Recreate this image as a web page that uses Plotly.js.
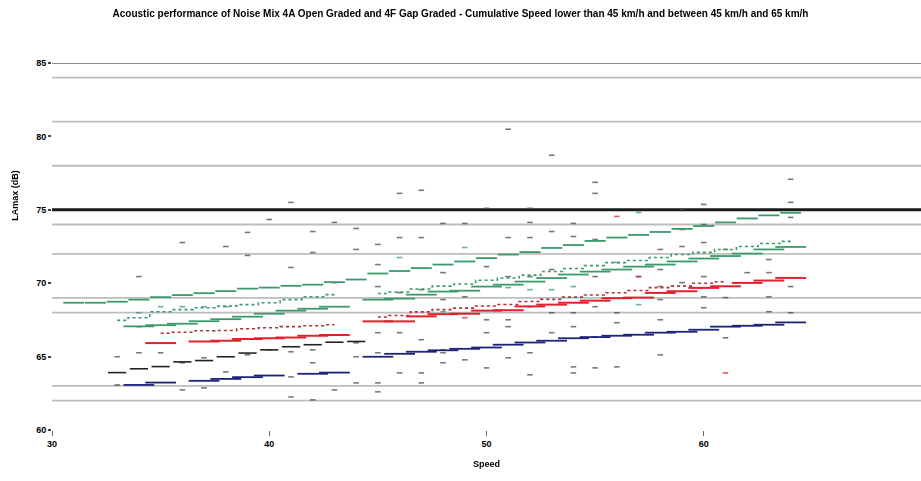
<!DOCTYPE html>
<html>
<head>
<meta charset="utf-8">
<script src="https://cdn.plot.ly/plotly-3.0.1.min.js"></script>
<style>html,body{margin:0;padding:0;background:#fff;}#chart{width:921px;height:481px;}</style>
</head>
<body>
<div id="chart"></div>
<script>
// ---------- DATA ----------
var chartTitle = "Acoustic performance of Noise Mix 4A Open Graded and 4F Gap Graded - Cumulative Speed lower than 45 km/h and between 45 km/h and 65 km/h";
var xTitle = "Speed";
var yTitle = "LAmax (dB)";
var xTicks = [30, 40, 50, 60, 70];
var yTicks = [60, 65, 70, 75, 80, 85];
var refLines = [85, 84, 81, 78, 74, 72, 69, 68, 63, 62];
var limitLine = 75;

// Group 1 (low speed)
var g1GreenDashSpeed = [31,32,33,34,35,36,37,38,39,40,41,42,43,44];
var g1GreenDash      = [68.67,68.67,68.74,68.88,69.05,69.19,69.32,69.46,69.63,69.70,69.82,69.90,70.07,70.25];
var g1GreenDotSpeed  = [33,34,35,36,37,38,39,40,41,42,43];
var g1GreenDot       = [67.47,67.65,68.06,68.20,68.33,68.44,68.54,68.67,68.88,69.08,69.22];
var g1GreenSpeed     = [34,35,36,37,38,39,40,41,42,43];
var g1Green          = [67.06,67.14,67.24,67.41,67.55,67.72,67.92,68.13,68.26,68.40];
var g1RedDotSpeed    = [35,36,37,38,39,40,41,42,43];
var g1RedDot         = [66.59,66.66,66.76,66.78,66.90,66.97,67.04,67.10,67.17];
var g1RedSpeed       = [35,37,38,39,40,41,42,43];
var g1Red            = [65.92,66.03,66.08,66.20,66.25,66.30,66.42,66.47];
var g1BlackDashSpeed = [33,34,35,36,37,38,39,40,41,42,43,44];
var g1BlackDash      = [63.91,64.17,64.32,64.64,64.73,64.99,65.24,65.46,65.67,65.81,65.98,66.03];
var g1NavySpeed      = [34,35,37,38,39,40,42,43];
var g1Navy           = [63.07,63.23,63.35,63.48,63.60,63.71,63.83,63.91];

// Group 2 (higher speed)
var g2Speed          = [45,46,47,48,49,50,51,52,53,54,55,56,57,58,59,60,61,62,63,64];
var g2GreenDash      = [70.66,70.83,71.03,71.27,71.48,71.71,71.95,72.12,72.40,72.60,72.88,73.11,73.29,73.49,73.70,73.90,74.14,74.41,74.62,74.80];
var g2GreenDot       = [69.30,69.40,69.60,69.80,69.95,70.20,70.35,70.55,70.80,71.00,71.20,71.40,71.55,71.75,71.95,72.10,72.30,72.50,72.70,72.85];
var g2Green          = [68.88,68.95,69.22,69.43,69.49,69.77,69.90,70.11,70.35,70.59,70.79,70.93,71.13,71.27,71.48,71.68,71.85,72.02,72.30,72.47];
var g2RedDotSpeed    = [45,46,47,48,49,50,51,52,53,54,55,56,57,58,59,60,61];
var g2RedDot         = [67.70,67.80,68.05,68.20,68.30,68.45,68.55,68.75,68.90,69.05,69.20,69.35,69.50,69.70,69.80,70.00,70.10];
var g2Red            = [67.40,67.40,67.74,67.89,67.92,68.13,68.16,68.42,68.54,68.67,68.81,68.98,69.02,69.34,69.45,69.68,69.79,70.02,70.18,70.36];
var g2Navy           = [64.99,65.19,65.33,65.43,65.53,65.62,65.81,65.96,66.08,66.25,66.33,66.42,66.49,66.63,66.69,66.83,67.04,67.10,67.17,67.33];

// Individual measurements
var ptsBlackSpeed = [34,36,38,39,40,41,42,43,44,44,39,42,41,43,33,34,35,36,37,38,39,40,41,42,33,36,37,41,42,43,41,42,44,44,44,
                     51,53,46,47,55,55,48,49,50,52,52,54,46,47,45,51,52,53,54,55,
                     45,45,48,50,51,52,53,55,57,46,47,48,49,50,51,52,53,54,55,56,
                     45,46,47,48,50,51,52,53,54,55,56,45,46,47,47,48,48,49,50,51,52,54,54,55,56,45,45,
                     64,64,64,59,60,60,59,58,59,60,61,63,58,60,62,63,64,58,59,60,61,63,64,63,58,58,60,61,58];
var ptsBlack      = [70.45,72.77,72.50,73.46,74.34,75.50,73.52,74.14,73.73,72.30,71.89,72.09,71.07,70.04,64.99,65.26,65.26,64.58,64.92,63.96,65.12,65.46,65.33,65.46,63.07,62.73,62.87,62.25,62.05,62.73,63.62,64.58,65.94,64.99,63.21,
                     80.49,78.72,76.12,76.33,76.87,76.12,74.07,74.07,75.10,75.10,74.14,74.07,73.11,73.11,72.64,73.11,73.11,73.52,73.18,72.98,
                     71.27,69.77,70.72,71.13,70.45,70.45,70.93,70.45,70.45,69.36,69.56,68.88,69.08,67.51,67.51,68.40,67.99,67.99,68.40,67.99,
                     66.63,66.63,66.15,65.46,66.63,67.04,65.26,66.63,67.04,66.35,67.31,65.26,63.89,63.89,63.21,65.26,64.58,64.78,64.23,64.92,63.76,64.30,63.89,64.23,64.30,63.21,62.60,
                     77.08,75.51,74.48,75.03,75.37,74.00,73.66,72.30,72.50,72.77,72.30,71.61,70.93,70.45,70.72,70.72,69.77,69.77,70.04,69.08,69.02,69.08,67.99,68.06,68.88,67.51,68.33,66.28,65.12];
var ptsGreenSpeed = [35,36,37,38,34,49,51,52,53,54,56,57,46,48,57];
var ptsGreen      = [68.40,68.40,68.40,68.40,67.99,72.43,69.70,69.56,69.56,69.77,71.41,74.82,71.75,68.06,68.54];
var ptsRedSpeed   = [61,56,49,57,34];
var ptsRed        = [63.89,74.55,67.65,70.45,67.04];

// ---------- STYLE ----------
var GREEN = '#3a9a6c', RED = '#e3202b', NAVY = '#1c2478', BLACK = '#222222', DRED = '#b3303c';
var FONT = 'Liberation Sans Narrow, Liberation Sans, Arial, sans-serif';

function stepMarks(x, y, color, len, w) {
  return {x: x, y: y, type: 'scatter', mode: 'markers', hoverinfo: 'skip',
    marker: {symbol: 'line-ew', size: len, color: color, line: {color: color, width: w}}};
}
function dotLine(x, y, color) {
  return {x: x, y: y, type: 'scatter', mode: 'lines', hoverinfo: 'skip',
    line: {color: color, width: 1.6, dash: 'dot', shape: 'hvh'}};
}
function pts(x, y, color) {
  return {x: x, y: y, type: 'scatter', mode: 'markers', hoverinfo: 'skip', opacity: 0.75,
    marker: {symbol: 'line-ew', size: 4, color: color, line: {color: color, width: 1.6}}};
}

var traces = [
  pts(ptsBlackSpeed, ptsBlack, '#4a4a4a'),
  pts(ptsGreenSpeed, ptsGreen, GREEN),
  pts(ptsRedSpeed, ptsRed, RED),
  stepMarks(g1GreenDashSpeed, g1GreenDash, GREEN, 15, 1.8),
  dotLine(g1GreenDotSpeed, g1GreenDot, GREEN),
  stepMarks(g1GreenSpeed, g1Green, GREEN, 22, 1.8),
  dotLine(g1RedDotSpeed, g1RedDot, DRED),
  stepMarks(g1RedSpeed, g1Red, RED, 22, 2),
  stepMarks(g1BlackDashSpeed, g1BlackDash, BLACK, 13, 1.6),
  stepMarks(g1NavySpeed, g1Navy, NAVY, 22, 1.8),
  stepMarks(g2Speed, g2GreenDash, GREEN, 15, 1.8),
  dotLine(g2Speed, g2GreenDot, GREEN),
  stepMarks(g2Speed, g2Green, GREEN, 22, 1.8),
  dotLine(g2RedDotSpeed, g2RedDot, DRED),
  stepMarks(g2Speed, g2Red, RED, 22, 2),
  stepMarks(g2Speed, g2Navy, NAVY, 22, 1.8)
];

var shapes = refLines.map(function (v, i) {
  return {type: 'line', xref: 'paper', x0: 0, x1: 1, yref: 'y', y0: v, y1: v, layer: 'below',
    line: {color: i === 0 ? '#8c8c8c' : '#bdbdbd', width: 1.8}};
});
shapes.push({type: 'line', xref: 'paper', x0: 0, x1: 1, yref: 'y', y0: limitLine, y1: limitLine, layer: 'below',
  line: {color: '#1a1a1a', width: 3}});

var layout = {
  width: 921, height: 481,
  margin: {l: 52, r: 0, t: 63, b: 51, pad: 0},
  paper_bgcolor: '#fff', plot_bgcolor: '#fff',
  showlegend: false,
  font: {family: FONT, size: 9, color: '#000'},
  title: {text: chartTitle, font: {family: FONT, size: 10, color: '#000', weight: 'bold'}, x: 0.5, xanchor: 'center', y: 0.972, yref: 'container', yanchor: 'middle'},
  xaxis: {range: [30, 70], tickvals: xTicks, ticks: 'outside', ticklen: 5, tickcolor: '#666', tickwidth: 1,
    showgrid: false, zeroline: false, showline: false, tickfont: {size: 9, weight: 'bold'},
    title: {text: xTitle, font: {size: 9, weight: 'bold'}, standoff: 12}},
  yaxis: {range: [60, 85], tickvals: yTicks, ticks: 'outside', ticklen: 3, tickcolor: '#444', tickwidth: 2,
    showgrid: false, zeroline: false, showline: false, tickfont: {size: 9, weight: 'bold'}},
  shapes: shapes,
  annotations: [{text: yTitle, textangle: -90, xref: 'paper', yref: 'paper', x: -0.043, y: 0.64,
    xanchor: 'center', yanchor: 'middle', showarrow: false, font: {size: 9, weight: 'bold'}}]
};

Plotly.newPlot('chart', traces, layout, {staticPlot: true, displayModeBar: false});
</script>
</body>
</html>
